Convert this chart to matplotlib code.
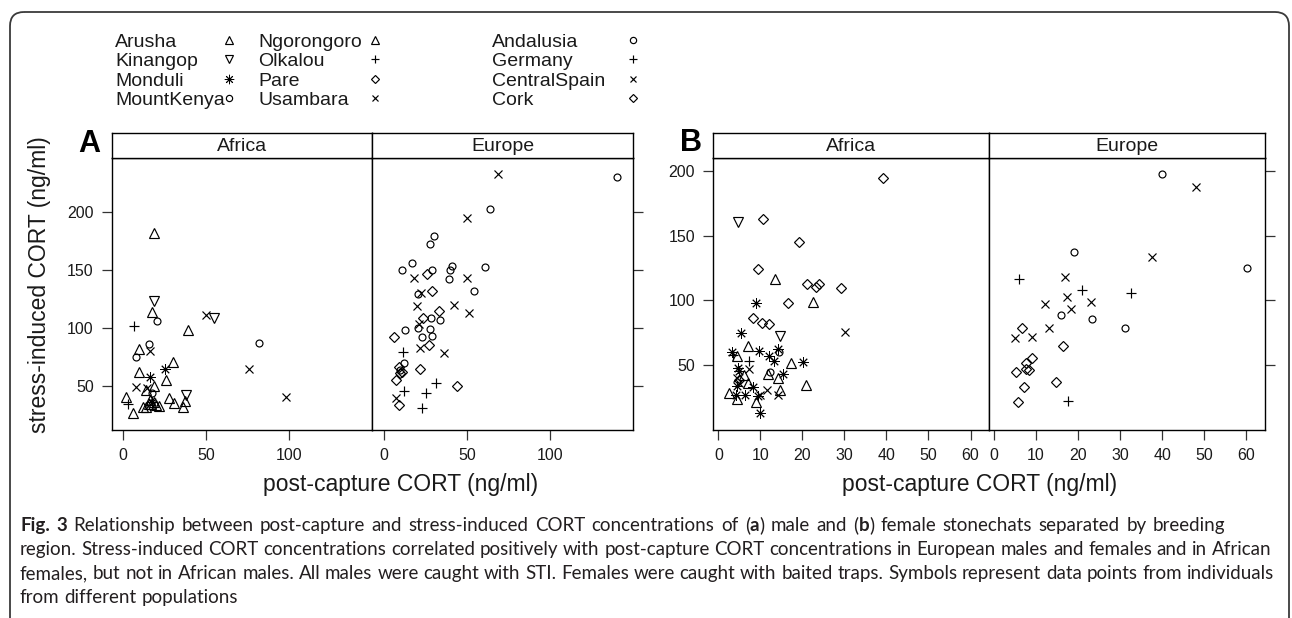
import matplotlib
matplotlib.use('Agg')
import matplotlib.pyplot as plt
from matplotlib.patches import FancyBboxPatch

plt.rcParams['font.family'] = 'Liberation Sans'

W, H = 1292, 618  # output size in pixels
cap_font = 'Lato'

# populations and their plotting symbols (same as the lattice key)
africa_pops = ['Arusha', 'Kinangop', 'Monduli', 'MountKenya',
               'Ngorongoro', 'Olkalou', 'Pare', 'Usambara']
europe_pops = ['Andalusia', 'Germany', 'CentralSpain', 'Cork']
ASTERISK = (8, 2, 0)
symbols = {'Arusha': '^', 'Kinangop': 'v', 'Monduli': ASTERISK, 'MountKenya': 'o',
           'Ngorongoro': '^', 'Olkalou': '+', 'Pare': 'D', 'Usambara': 'x',
           'Andalusia': 'o', 'Germany': '+', 'CentralSpain': 'x', 'Cork': 'D'}
sizes = {'^': 6.5, 'v': 6.5, ASTERISK: 7.5, 'o': 5.0, '+': 7.0, 'x': 5.2, 'D': 4.8}

# (A) males: (post-capture CORT, stress-induced CORT) in ng/ml
m_arusha = [(18.5, 181.8), (17.7, 114), (38.8, 98.2), (9.6, 81.5), (9.6, 62.1),
            (29.8, 70.2), (25.7, 54.9), (18.5, 49.7), (14.1, 46.3), (2, 40.5),
            (5.7, 26.6), (27.7, 39.6)]
m_ngorongoro = [(30.5, 35.3), (35.8, 31.8), (37.5, 36.5), (14.1, 31.8), (12.1, 31.5),
                (17.1, 34.2), (20.1, 33.3), (18.5, 36.1), (15.7, 34.6), (21.5, 32.5),
                (16, 38)]
m_kinangop = [(18.5, 123.3), (54.6, 108.3), (37.7, 42)]
m_monduli = [(16.1, 57.8), (25.5, 64.7), (17.5, 36)]
m_mountkenya = [(20.7, 106.2), (15.7, 86), (7.6, 75.1), (81.9, 87.2), (17.7, 43.4)]
m_olkalou = [(6.6, 101.6), (3, 34.2)]
m_pare = []
m_usambara = [(49.8, 111.2), (16.5, 80.3), (7.6, 49.1), (75.9, 64.2), (98, 40.5),
              (14.5, 48)]

m_andalusia = [(140, 230.8), (64, 202.9), (30, 179.8), (28, 172.3), (17, 155.9),
               (11, 150.1), (41, 153.8), (40, 150), (61, 153), (29, 150.1), (39, 142),
               (54, 131.9), (20.4, 129.3), (13, 98.2), (20.4, 99.6), (28, 99),
               (34, 106.8), (28.4, 108.3), (23, 92.4), (29, 92.9), (12, 69.4), (10, 64)]
m_germany = [(11.6, 78.9), (31.6, 52.6), (12, 45.7), (25.6, 43.4), (23, 30.4)]
m_centralspain = [(69, 232.9), (50, 194.8), (18, 142.9), (50, 142.9), (22.6, 130.5),
                  (20, 119), (42.4, 119.8), (51, 113.2), (22, 82.4), (36.4, 78),
                  (7.6, 39.1), (21, 103.4)]
m_cork = [(26, 146.4), (29, 132.2), (33, 114.6), (23.6, 108.3), (6, 92.4), (27, 85.2),
          (22, 64.2), (44, 49.7), (9, 66.4), (9.8, 60.6), (7.6, 54.9), (9, 33.3),
          (11, 62)]

# (B) females
f_arusha = [(13.5, 116.2), (22.6, 98.4), (7.1, 64.7), (4.4, 57.2), (17.2, 51.3),
            (20.8, 34.5), (11.7, 42.8)]
f_ngorongoro = [(14.3, 40.2), (14.7, 30.7), (2.6, 28.1), (4.4, 23.5), (9, 21.7),
                (7.1, 35.9), (6, 42)]
f_kinangop = [(4.6, 160.8), (14.7, 72.6)]
f_monduli = [(8.9, 98.2), (5.4, 75), (3.3, 60.3), (9.7, 61.1), (14.3, 62.1), (12.1, 57),
             (13.2, 53.1), (20.1, 52.6), (15.3, 43), (4.6, 47.4), (5, 45), (4.4, 33.8),
             (6.3, 26.8), (4.2, 26.8), (8.2, 33.2), (9.9, 12.7), (9.4, 26)]
f_mountkenya = [(14.5, 59.8), (12.3, 44.8)]
f_olkalou = [(7.4, 53.1), (3.5, 58)]
f_pare = [(39.1, 194.8), (10.7, 162.8), (19.2, 144.8), (9.5, 124.2), (21.2, 112.6),
          (23.2, 110.5), (23.9, 112.6), (29.2, 109.7), (16.5, 97.7), (8.3, 86.6),
          (10.3, 82.2), (12.1, 81.7), (4.8, 38.4)]
f_usambara = [(30.1, 75.3), (7.4, 46.7), (4.4, 40.2), (11.5, 30.7), (14.1, 26.8),
              (5, 36), (9.9, 26.8)]

f_andalusia = [(40, 197.4), (19, 137.6), (60.2, 125.2), (15.9, 88.6), (23.3, 85.3),
               (31.1, 78.8)]
f_germany = [(5.9, 116.5), (20.8, 108), (32.5, 105.9), (17.6, 22.4)]
f_centralspain = [(47.9, 187.3), (37.6, 133.2), (16.8, 117.8), (17.4, 102.8),
                  (12.1, 97.1), (23, 98.4), (18.4, 93.3), (13.1, 78.4), (4.9, 71.1),
                  (9, 71.9)]
f_cork = [(6.7, 78.4), (16.4, 64.9), (9, 55.2), (7.7, 51.3), (8.3, 46.1), (7.7, 46.6),
          (5.1, 44.8), (7.1, 33.2), (14.7, 36.6), (5.6, 21.2)]

male_africa = [m_arusha, m_kinangop, m_monduli, m_mountkenya,
               m_ngorongoro, m_olkalou, m_pare, m_usambara]
male_europe = [m_andalusia, m_germany, m_centralspain, m_cork]
female_africa = [f_arusha, f_kinangop, f_monduli, f_mountkenya,
                 f_ngorongoro, f_olkalou, f_pare, f_usambara]
female_europe = [f_andalusia, f_germany, f_centralspain, f_cork]

a_xticks = [0, 50, 100]
b_xticks = [0, 10, 20, 30, 40, 50, 60]
yticks = [50, 100, 150, 200]

# caption lines as (text, weight) runs
caption = [
    [("Fig. 3", 'bold'),
     (" Relationship between post-capture and stress-induced CORT concentrations of (", 'normal'),
     ("a", 'bold'), (") male and (", 'normal'), ("b", 'bold'),
     (") female stonechats separated by breeding", 'normal')],
    [("region. Stress-induced CORT concentrations correlated positively with post-capture "
      "CORT concentrations in European males and females and in African", 'normal')],
    [("females, but not in African males. All males were caught with STI. Females were "
      "caught with baited traps. Symbols represent data points from individuals", 'normal')],
    [("from different populations", 'normal')],
]
caption_right = [1268, 1240, 1270, None]  # where each line ends in the reference

fig = plt.figure(figsize=(W / 100, H / 100), dpi=100)


def panel(x0, x1, region, pops, groups, xlim, ylim, xticks, side):
    ax = fig.add_axes([x0 / W, 1 - 430 / H, (x1 - x0) / W, 272 / H])
    for name, pts in zip(pops, groups):
        if not pts:
            continue
        m = symbols[name]
        ax.plot([p[0] for p in pts], [p[1] for p in pts], ls='none', marker=m,
                ms=sizes[m], mfc='none', mec='black',
                mew=0.65 if m == ASTERISK else 0.85)
    ax.set_xlim(xlim)
    ax.set_ylim(ylim)
    ax.set_xticks(xticks)
    ax.set_yticks(yticks)
    for s in ax.spines.values():
        s.set_linewidth(1.0)
    ax.tick_params(direction='out', length=7, width=0.9, color='#333',
                   labelcolor='#1a1a1a', labelsize=11.5, pad=6, top=False)
    if side == 'right':
        ax.tick_params(axis='y', left=False, labelleft=False, right=True, labelright=False)

    # strip with region name
    st = fig.add_axes([x0 / W, 1 - 158 / H, (x1 - x0) / W, 25 / H])
    st.set_xticks([])
    st.set_yticks([])
    for s in st.spines.values():
        s.set_linewidth(1.0)
    st.text(0.5, 0.45, region, ha='center', va='center', fontsize=14, color='#1a1a1a',
            transform=st.transAxes)
    return ax


panel(111.7, 372.3, 'Africa', africa_pops, male_africa, (-6.8, 149.8), (11.7, 247), a_xticks, 'left')
panel(372.3, 633, 'Europe', europe_pops, male_europe, (-6.8, 149.8), (11.7, 247), a_xticks, 'right')
panel(713.3, 989, 'Africa', africa_pops, female_africa, (-1.2, 64.4), (-0.3, 210), b_xticks, 'left')
panel(989, 1265, 'Europe', europe_pops, female_europe, (-1.2, 64.4), (-0.3, 210), b_xticks, 'right')

# overlay in pixel coordinates for key, labels, caption and frame
ov = fig.add_axes([0, 0, 1, 1])
ov.set_xlim(0, W)
ov.set_ylim(H, 0)
ov.axis('off')

ov.add_patch(FancyBboxPatch((10, 12), 1279, 660, boxstyle='round,pad=0,rounding_size=14',
                            fill=False, ec='#3a3a3a', lw=1.3, clip_on=False))

# key
key_cols = [africa_pops[:4], africa_pops[4:], europe_pops]
key_text_x = [115, 258, 492]
key_sym_x = [229, 375, 633]
for col, tx, sx in zip(key_cols, key_text_x, key_sym_x):
    for i, name in enumerate(col):
        yc = 40 + 19.3 * i
        ov.text(tx, yc + 7, name, fontsize=14, color='#1a1a1a', ha='left', va='baseline')
        m = symbols[name]
        ov.plot([sx], [yc], ls='none', marker=m, ms=sizes[m] * 0.9, mfc='none',
                mec='black', mew=0.65 if m == ASTERISK else 0.85)

ov.text(78, 152, 'A', fontsize=22, fontweight='bold', ha='left', va='baseline')
ov.text(680, 151, 'B', fontsize=22, fontweight='bold', ha='left', va='baseline')

ov.text(40, 285, 'stress-induced CORT (ng/ml)', rotation=90, fontsize=16.5,
        color='#1a1a1a', ha='center', va='center')
ov.text(401, 491, 'post-capture CORT (ng/ml)', fontsize=16.5, color='#1a1a1a',
        ha='center', va='baseline')
ov.text(980, 491, 'post-capture CORT (ng/ml)', fontsize=16.5, color='#1a1a1a',
        ha='center', va='baseline')

# caption
renderer = fig.canvas.get_renderer()


def width_of(s, size, weight='normal'):
    t = ov.text(0, 0, s, fontsize=size, fontweight=weight, family=cap_font)
    w = t.get_window_extent(renderer).width
    t.remove()
    return w


widest = max(width_of(''.join(s for s, _ in runs), 12) for runs in caption)
cap_size = 12 * 1248 / widest
space = width_of('n n', cap_size) - width_of('nn', cap_size)

for i, (runs, right) in enumerate(zip(caption, caption_right)):
    # split the runs into words; a word may mix bold and normal pieces
    words = [[]]
    for s, weight in runs:
        for j, part in enumerate(s.split(' ')):
            if j > 0:
                words.append([])
            if part:
                words[-1].append((part, weight))
    words = [wd for wd in words if wd]
    widths = [sum(width_of(p, cap_size, wt) for p, wt in wd) for wd in words]
    gap = space
    if right is not None:
        # stretch the word spacing a little towards the reference line end
        gap = min(space * 1.35, max(space, (right - 20 - sum(widths)) / (len(words) - 1)))
    x = 20
    y = 531 + 24 * i
    for wd, wdw in zip(words, widths):
        px = x
        for p, wt in wd:
            t = ov.text(px, y, p, fontsize=cap_size, fontweight=wt, family=cap_font,
                        color='#231f20', ha='left', va='baseline')
            px += t.get_window_extent(renderer).width
        x += wdw + gap

fig.savefig('out.png', dpi=100)
